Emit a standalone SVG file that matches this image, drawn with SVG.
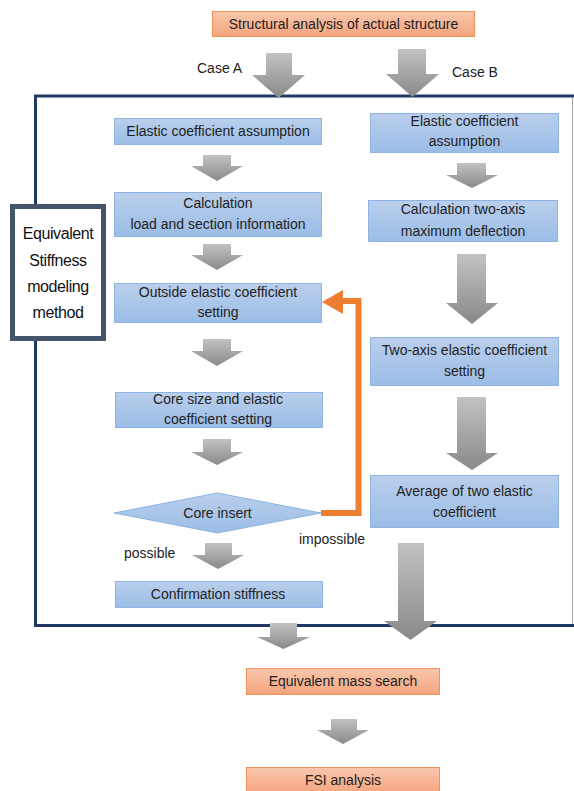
<svg xmlns="http://www.w3.org/2000/svg" width="574" height="791" viewBox="0 0 574 791">
<defs>
<linearGradient id="gBlue" x1="0" y1="0" x2="0" y2="1"><stop offset="0" stop-color="#BACFEC"/><stop offset="1" stop-color="#9BBDE6"/></linearGradient>
<linearGradient id="gOrange" x1="0" y1="0" x2="0" y2="1"><stop offset="0" stop-color="#F9C7AD"/><stop offset="1" stop-color="#F4A47E"/></linearGradient>
<linearGradient id="gGray" x1="0" y1="0" x2="0" y2="1"><stop offset="0" stop-color="#C2C2C2"/><stop offset="1" stop-color="#898989"/></linearGradient>
</defs>
<style>
.bb{fill:url(#gBlue);stroke:#8DB4E2;stroke-width:1}
.ob{fill:url(#gOrange);stroke:#F39257;stroke-width:1}
.ga{fill:url(#gGray)}
text{font-family:"Liberation Sans",Arial,sans-serif;font-size:14px;fill:#222;text-anchor:middle}
.lt{text-anchor:start}
.big{font-size:16px;letter-spacing:-0.4px;fill:#111}
</style>
<rect width="574" height="791" fill="#fff"/>

<g id="frame">
<path d="M574,96 H35.5 V625.5 H574" fill="none" stroke="#203864" stroke-width="3"/>
<line x1="572.5" y1="97.5" x2="572.5" y2="624" stroke="#A6A6A6" stroke-width="1"/>
</g>

<g id="connectors">
<path class="ga" d="M266,53 H292 V75 H305 L278.5,98 L252,75 H266 Z"/>
<path class="ga" d="M398,49 H426 V74 H439 L412.5,97 L386,74 H398 Z"/>
<path class="ga" d="M203,155 H231 V166 H243 L217,181 L191,166 H203 Z"/>
<path class="ga" d="M203,244 H231 V255 H243 L217,270 L191,255 H203 Z"/>
<path class="ga" d="M203,339 H231 V351 H243 L217,366 L191,351 H203 Z"/>
<path class="ga" d="M203,439 H231 V452 H243 L217,465 L191,452 H203 Z"/>
<path class="ga" d="M205,543 H232 V555 H244 L218,569 L192,555 H205 Z"/>
<path class="ga" d="M457,163 H486 V175 H498 L472,188 L446,175 H457 Z"/>
<path class="ga" d="M457,254 H486 V303 H498 L472,324 L446,303 H457 Z"/>
<path class="ga" d="M457,397 H486 V453 H498 L472,470 L446,453 H457 Z"/>
<path class="ga" d="M398,543 H424 V621 H437 L410.5,640 L384,621 H398 Z"/>
<path class="ga" d="M270,623 H297 V637 H310 L283.5,649 L257,637 H270 Z"/>
<path class="ga" d="M331,719 H357 V730 H369 L343,744 L317,730 H331 Z"/>
<path d="M321,513 H358.5 V301 H342" fill="none" stroke="#ED7D31" stroke-width="6"/>
<polygon points="322,302 343,290 343,314" fill="#ED7D31"/>
<text class="lt" x="197" y="73">Case A</text>
<text class="lt" x="452" y="77">Case B</text>
<text class="lt" x="124" y="558">possible</text>
<text class="lt" x="299" y="544">impossible</text>
</g>

<g id="n-top"><rect class="ob" x="212.5" y="11.5" width="262" height="25"/><text x="343.5" y="29">Structural analysis of actual structure</text></g>

<g id="n-method"><rect x="12.5" y="206.5" width="91" height="132" fill="#fff" stroke="#44546A" stroke-width="5"/>
<text class="big" x="58" y="239">Equivalent</text><text class="big" x="58" y="266">Stiffness</text><text class="big" x="58" y="292">modeling</text><text class="big" x="58" y="318">method</text></g>

<g id="n-a1"><rect class="bb" x="114.5" y="118.5" width="207" height="26"/><text x="218" y="136">Elastic coefficient assumption</text></g>
<g id="n-a2"><rect class="bb" x="114.5" y="192.5" width="207" height="44"/><text x="218" y="208">Calculation</text><text x="218" y="229">load and section information</text></g>
<g id="n-a3"><rect class="bb" x="114.5" y="283.5" width="207" height="39"/><text x="218" y="297">Outside elastic coefficient</text><text x="218" y="317">setting</text></g>
<g id="n-a4"><rect class="bb" x="115.5" y="392.5" width="207" height="35"/><text x="218" y="404">Core size and elastic</text><text x="218" y="424">coefficient setting</text></g>
<g id="n-a5"><polygon class="bb" points="114,513 217.5,493 321,513 217.5,533"/><text x="217.5" y="518">Core insert</text></g>
<g id="n-a6"><rect class="bb" x="115.5" y="581.5" width="207" height="26"/><text x="218" y="599">Confirmation stiffness</text></g>

<g id="n-b1"><rect class="bb" x="370.5" y="113.5" width="188" height="39"/><text x="464.5" y="126">Elastic coefficient</text><text x="464.5" y="146">assumption</text></g>
<g id="n-b2"><rect class="bb" x="368.5" y="200.5" width="189" height="41"/><text x="463" y="214">Calculation two-axis</text><text x="463" y="236">maximum deflection</text></g>
<g id="n-b3"><rect class="bb" x="370.5" y="337.5" width="188" height="48"/><text x="464.5" y="355">Two-axis elastic coefficient</text><text x="464.5" y="376">setting</text></g>
<g id="n-b4"><rect class="bb" x="370.5" y="475.5" width="188" height="52"/><text x="464.5" y="496">Average of two elastic</text><text x="464.5" y="517">coefficient</text></g>

<g id="n-mass"><rect class="ob" x="246.5" y="668.5" width="193" height="26"/><text x="343" y="686">Equivalent mass search</text></g>
<g id="n-fsi"><rect class="ob" x="246.5" y="767.5" width="193" height="26"/><text x="343" y="785">FSI analysis</text></g>
</svg>
